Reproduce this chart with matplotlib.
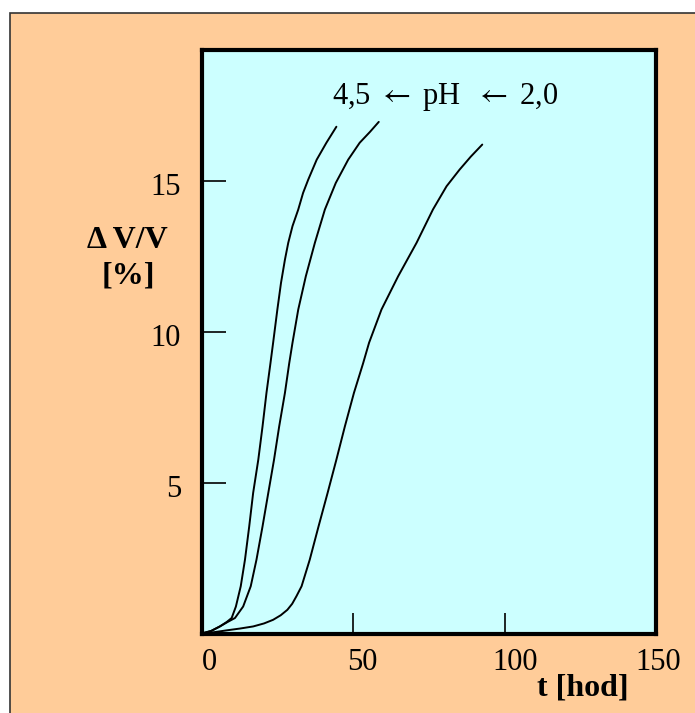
import matplotlib
matplotlib.use("Agg")
import matplotlib.pyplot as plt
import matplotlib.transforms as mtransforms
from matplotlib.patches import Rectangle

plt.rcParams['font.family'] = ['Liberation Serif', 'DejaVu Serif']
plt.rcParams['mathtext.fontset'] = 'stix'

# Data (t [hod], dV/V [%])
t_ph45 = [0, 3, 5.9, 8.2, 9.8, 11.2, 12.8, 14.2, 15.6, 16.9, 18.6, 20.0, 21.3, 22.6,
          23.5, 24.9, 26.1, 27.4, 28.5, 29.9, 31.8, 33.4, 35.1, 37.9, 41.1, 44.4]
v_ph45 = [0.02, 0.1, 0.25, 0.4, 0.53, 0.91, 1.58, 2.46, 3.56, 4.67, 5.77, 6.87, 7.98, 8.95,
          9.64, 10.74, 11.62, 12.39, 12.95, 13.5, 14.05, 14.6, 15.04, 15.7, 16.26, 16.79]

t_ph_mid = [0, 3, 5.9, 8.5, 10.9, 13.6, 16.1, 18.0, 20.0, 21.9, 23.8, 25.5, 27.4, 28.8,
            29.9, 31.8, 34.3, 37.3, 40.6, 44.2, 48.3, 52.1, 55.5, 58.4]
v_ph_mid = [0.02, 0.1, 0.25, 0.4, 0.53, 0.91, 1.58, 2.46, 3.56, 4.67, 5.77, 6.87, 7.98, 8.95,
            9.64, 10.74, 11.84, 12.95, 14.05, 14.93, 15.7, 16.26, 16.62, 16.95]

t_ph20 = [0, 4, 8.1, 12.5, 16.9, 20.5, 23.5, 26.0, 28.2, 29.8, 31.2, 32.9, 35.6, 38.5,
          41.5, 44.4, 47.2, 50.2, 53.2, 55.2, 59.3, 64.8, 70.9, 76.3, 80.8, 85.1, 88.8, 92.6]
v_ph20 = [0.02, 0.06, 0.12, 0.18, 0.25, 0.35, 0.47, 0.62, 0.8, 1.0, 1.25, 1.58, 2.46, 3.56,
          4.67, 5.77, 6.87, 7.98, 8.95, 9.64, 10.74, 11.84, 12.95, 14.05, 14.82, 15.37, 15.8, 16.2]

x_ticklabels_pos = [0, 50, 100, 150]
y_ticks = [5, 10, 15]

fig = plt.figure(figsize=(6.95, 7.13), dpi=100)
fig.patch.set_facecolor('white')
fig.patches.append(Rectangle((10/695, -0.05), 1.2, (713-13)/713 + 0.05,
                             transform=fig.transFigure, facecolor='#FFCC99',
                             edgecolor='#333333', linewidth=1.2, zorder=-10))

ax = fig.add_axes([202/695, 1-634/713, (656-202)/695, (634-50)/713])
ax.set_facecolor('#CCFFFF')
for s in ax.spines.values():
    s.set_linewidth(3.0)

for t, v in [(t_ph45, v_ph45), (t_ph_mid, v_ph_mid), (t_ph20, v_ph20)]:
    ax.plot(t, v, color='black', linewidth=1.4, solid_joinstyle='round',
            solid_capstyle='round')

ax.set_xlim(0, 150)
ax.set_ylim(0, 19.33)

ax.set_xticks(x_ticklabels_pos)
ax.set_xticklabels([str(v) for v in x_ticklabels_pos])
ax.set_yticks(y_ticks)
ax.set_yticklabels([str(v) for v in y_ticks])
ax.tick_params(axis='x', direction='in', length=15, width=1.2, pad=10, labelsize=22)
ax.tick_params(axis='y', direction='in', length=17, width=1.2, pad=15, labelsize=22)

# slight horizontal offsets of x tick labels as in the reference
for lab, dx in zip(ax.get_xticklabels(), [7, 9, 10, 2]):
    lab.set_transform(lab.get_transform() +
                      mtransforms.ScaledTranslation(dx/100, 0, fig.dpi_scale_trans))
for lab in ax.get_yticklabels():
    lab.set_transform(lab.get_transform() +
                      mtransforms.ScaledTranslation(0, -3/100, fig.dpi_scale_trans))

fig.text(445/695, 1-97/713, r'4,5 $\leftarrow$ pH  $\leftarrow$ 2,0',
         fontsize=22, ha='center', va='center')

fig.text(127/695, 1-240/713, '\u0394 V/V', fontsize=23, fontweight='bold',
         ha='center', va='center')
fig.text(128/695, 1-276/713, '[%]', fontsize=23, fontweight='bold',
         ha='center', va='center')
fig.text(583/695, 1-688/713, 't [hod]', fontsize=23, fontweight='bold',
         ha='center', va='center')

fig.savefig('out.png', dpi=100, facecolor=fig.get_facecolor())
